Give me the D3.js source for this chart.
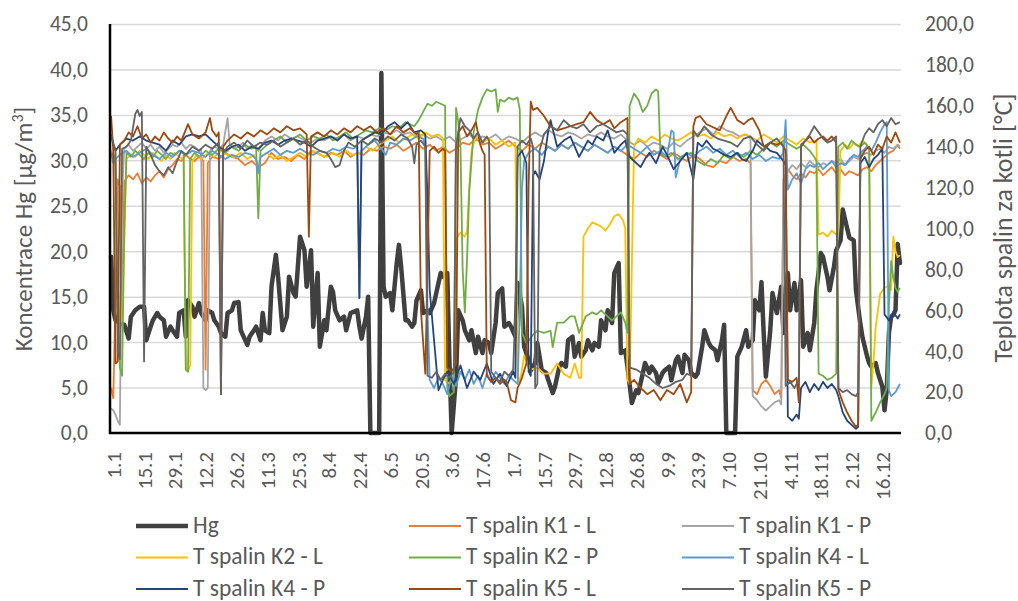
<!DOCTYPE html>
<html>
<head>
<meta charset="utf-8">
<script src="https://cdn.jsdelivr.net/npm/d3@7"></script>
<style>
  body { margin: 0; background: #fff; }
  svg { display: block; }
  text { font-family: Carlito, Lato, "Open Sans", sans-serif; fill: #595959; }
</style>
</head>
<body>
<svg id="chart" width="1018" height="601"></svg>
<script>
// Daily values for 2020; each point is [day index from 1.1., value]
const dayLabels = ["1.1","15.1","29.1","12.2","26.2","11.3","25.3","8.4","22.4","6.5","20.5","3.6","17.6",
  "1.7","15.7","29.7","12.8","26.8","9.9","23.9","7.10","21.10","4.11","18.11","2.12","16.12"];
const hgTicks = [0,5,10,15,20,25,30,35,40,45];
const tempTicks = [0,20,40,60,80,100,120,140,160,180,200];

// Hg concentration [µg/m3]
const hg = [[0,19.4],[1,13.5],[2,12.4],[4,12.1],[6,11.9],[8,10.4],[9,12.8],[11,13.5],[13,13.9],[15,13.9],[16,10.2],[18,11.7],[19,12.4],[21,13.2],[22,12.8],[24,12.4],[25,10.6],[27,11.7],[28,11.3],[30,10.6],[31,13.2],[33,13.5],[34,10.6],[35,14.6],[37,13.9],[38,12.8],[40,14.3],[41,13.2],[43,12.4],[44,13.5],[46,13.2],[47,12.4],[49,11.7],[50,11.0],[52,10.6],[53,13.2],[55,13.5],[56,14.3],[58,14.4],[59,11.3],[62,9.7],[63,10.6],[65,11.3],[66,11.7],[68,10.2],[69,13.2],[70,11.3],[72,11.0],[73,16.1],[75,19.6],[76,17.2],[78,11.3],[80,12.8],[81,17.2],[83,15.4],[84,15.0],[86,21.6],[88,20.1],[89,16.1],[91,20.1],[92,11.7],[94,17.6],[95,9.5],[97,12.4],[98,11.3],[100,16.1],[101,15.5],[102,13.5],[104,12.4],[106,12.8],[107,11.3],[109,13.2],[110,13.3],[112,13.5],[113,11.7],[114,10.4],[116,12.8],[117,15.0],[118,0],[119,0],[120,0],[121,0],[122,0],[123,39.6],[124,16.1],[125,15.0],[127,15.4],[128,13.5],[130,18.7],[131,20.7],[132,18.3],[134,12.4],[135,12.4],[137,11.7],[138,12.1],[139,14.6],[141,15.7],[142,13.2],[144,13.5],[145,13.2],[147,14.3],[148,15.4],[150,17.6],[151,17.2],[153,17.6],[154,7.7],[155,0],[157,6.2],[158,13.5],[160,12.4],[161,11.3],[163,10.2],[164,11.3],[166,8.8],[167,10.6],[169,8.8],[170,10.2],[172,9.9],[173,8.8],[175,12.1],[176,15.4],[178,15.9],[179,11.7],[181,12.1],[182,11.7],[184,10.6],[185,16.5],[187,13.9],[188,9.5],[190,8.0],[191,6.9],[193,7.7],[194,9.9],[196,6.9],[198,6.6],[199,5.8],[201,4.4],[202,5.1],[204,7.3],[205,7.7],[207,7.3],[208,10.2],[210,10.6],[211,8.4],[213,9.9],[214,8.4],[216,9.1],[217,10.2],[219,9.1],[220,9.9],[222,9.5],[223,12.4],[225,11.3],[226,13.5],[228,12.1],[229,17.6],[231,18.7],[232,8.8],[234,9.1],[235,7.3],[237,3.3],[239,4.7],[240,4.4],[242,6.6],[243,7.7],[245,6.6],[246,7.3],[248,6.6],[249,5.5],[251,6.6],[252,6.9],[254,7.3],[255,5.8],[257,8.0],[258,8.4],[260,6.6],[261,8.6],[263,8.0],[264,6.6],[266,6.2],[267,6.6],[269,9.5],[270,11.3],[272,9.9],[273,9.5],[275,9.1],[276,8.0],[278,10.2],[279,11.9],[280,0],[281,0],[282,0],[283,0],[284,0],[285,8.4],[287,9.5],[289,11.3],[290,9.5],[292,10.2],[293,14.6],[295,13.5],[296,16.6],[297,11.0],[298,6.2],[300,11.3],[301,15.4],[303,13.2],[305,16.1],[306,11.0],[308,17.6],[309,13.5],[311,16.5],[312,13.5],[314,16.8],[315,9.5],[317,11.0],[318,9.1],[320,12.1],[321,15.7],[323,19.8],[324,19.4],[326,17.2],[327,15.7],[329,18.3],[330,20.1],[332,21.2],[333,24.6],[335,22.5],[336,21.5],[338,21.2],[339,15.7],[341,12.0],[342,10.5],[344,8.5],[345,7.7],[346,7.3],[348,7.7],[349,6.6],[351,5.1],[352,2.5],[353,4.7],[354,11.0],[355,12.8],[356,13.0],[357,13.5],[358,20.8],[359,18.7]];

// Flue gas temperature behind the boilers [°C]
const k1L = [[0,22],[1,17],[2,68],[3,124],[4,121],[5,58],[6,123],[8,126],[10,124],[12,127],[14,122],[16,125],[18,123],[20,126],[22,128],[24,125],[26,129],[28,131],[30,134],[32,133],[34,136],[36,134],[38,133],[40,135],[42,133],[43,31],[44,132],[46,135],[49,134],[52,137],[55,135],[58,134],[61,131],[64,133],[67,130],[70,132],[73,137],[76,134],[79,135],[82,133],[85,136],[88,134],[91,138],[94,137],[97,135],[100,137],[103,136],[106,138],[109,135],[112,137],[115,136],[118,139],[121,138],[124,140],[127,139],[130,141],[133,138],[136,140],[139,142],[142,139],[145,141],[148,138],[151,140],[154,137],[157,139],[160,142],[163,141],[166,144],[169,141],[172,142],[175,139],[178,141],[181,143],[184,140],[187,138],[190,141],[193,139],[196,142],[199,140],[202,138],[205,141],[208,139],[211,142],[214,140],[217,138],[220,141],[223,139],[226,137],[229,140],[232,138],[235,136],[238,134],[241,137],[244,135],[247,138],[250,136],[253,134],[256,137],[259,135],[262,133],[265,136],[268,134],[271,131],[274,130],[277,133],[280,132],[283,135],[286,133],[289,134],[291,132],[292,21],[294,19],[296,24],[298,26],[300,23],[302,19],[304,21],[305,17],[306,124],[308,129],[310,126],[312,124],[314,127],[316,125],[318,128],[320,127],[322,129],[324,126],[326,128],[328,130],[330,127],[332,129],[334,126],[336,128],[338,127],[340,126],[342,129],[344,130],[346,128],[348,131],[350,133],[352,135],[354,137],[356,138],[358,141],[359,139]];
const k1P = [[0,12],[1,11],[2,9],[3,6],[4,4],[5,118],[6,139],[8,141],[10,138],[12,140],[14,142],[16,139],[18,141],[20,138],[22,140],[24,137],[26,139],[28,141],[30,140],[32,142],[34,139],[36,141],[38,140],[40,138],[41,139],[42,22],[43,21],[44,22],[45,138],[47,140],[49,139],[51,141],[53,154],[54,141],[56,139],[58,140],[60,142],[62,139],[64,141],[67,138],[70,143],[73,145],[76,143],[79,146],[82,144],[85,145],[88,143],[91,142],[94,144],[97,143],[100,145],[103,144],[106,146],[109,143],[112,145],[115,144],[118,146],[121,145],[124,147],[127,146],[130,148],[133,146],[136,147],[139,145],[142,146],[145,144],[148,145],[151,143],[154,145],[157,142],[160,144],[163,146],[166,143],[169,145],[172,144],[175,146],[178,143],[181,145],[184,144],[187,142],[190,145],[193,147],[196,145],[199,148],[202,146],[205,145],[208,147],[211,146],[214,144],[217,146],[220,145],[223,147],[226,145],[229,144],[232,146],[235,143],[238,141],[241,143],[244,140],[247,142],[250,141],[253,139],[256,142],[259,140],[262,143],[265,145],[268,147],[271,149],[274,146],[277,150],[280,148],[283,147],[286,145],[289,146],[291,144],[292,18],[294,16],[296,13],[298,11],[300,13],[302,15],[304,16],[305,14],[306,122],[308,128],[310,131],[312,129],[314,132],[316,130],[318,133],[320,131],[322,130],[324,132],[326,131],[328,133],[330,132],[332,134],[334,131],[336,133],[338,135],[340,134],[342,136],[344,137],[346,136],[348,138],[350,139],[352,137],[354,140],[356,139],[358,141],[359,140]];
const k2L = [[0,138],[1,136],[2,131],[3,74],[4,52],[5,60],[6,92],[7,134],[9,136],[11,135],[13,138],[15,136],[17,134],[19,137],[21,135],[23,133],[25,136],[27,134],[29,137],[31,135],[33,134],[34,31],[35,30],[36,33],[37,133],[39,136],[41,134],[44,137],[47,135],[50,138],[53,136],[56,135],[59,137],[62,134],[65,136],[67,131],[68,135],[71,137],[74,134],[77,136],[80,133],[83,135],[86,137],[89,135],[92,138],[95,136],[98,135],[101,137],[104,135],[107,138],[110,136],[113,137],[116,140],[119,138],[122,141],[125,143],[128,145],[131,142],[134,144],[137,146],[140,144],[143,147],[146,145],[149,146],[151,144],[152,26],[154,24],[156,27],[157,95],[159,98],[161,96],[162,99],[163,120],[164,138],[166,145],[169,142],[172,144],[175,141],[178,143],[181,140],[184,142],[185,30],[186,24],[188,38],[191,31],[194,32],[197,29],[200,29],[203,34],[206,29],[209,27],[211,34],[213,27],[214,27],[215,96],[217,100],[219,103],[221,102],[223,101],[225,99],[227,102],[229,106],[231,107],[233,104],[234,100],[235,26],[236,24],[238,140],[240,144],[243,142],[246,145],[249,143],[252,146],[255,144],[258,143],[261,145],[264,147],[267,145],[270,146],[273,144],[276,147],[279,145],[282,146],[285,144],[288,146],[291,145],[294,143],[297,146],[300,144],[303,142],[306,145],[309,143],[312,141],[315,144],[318,142],[321,143],[322,97],[324,98],[326,96],[328,99],[330,97],[331,98],[332,138],[334,141],[336,139],[338,142],[340,140],[342,143],[344,141],[345,139],[346,22],[347,35],[348,52],[350,68],[352,71],[354,72],[355,70],[356,96],[357,89],[358,86],[359,87]];
const k2P = [[0,135],[1,137],[2,133],[3,60],[4,32],[5,28],[6,100],[7,137],[9,135],[11,138],[13,136],[15,134],[17,137],[19,135],[21,138],[23,136],[25,134],[27,137],[29,136],[31,138],[33,137],[34,31],[35,30],[36,134],[38,137],[40,135],[43,138],[46,136],[49,139],[52,137],[55,140],[58,138],[61,141],[64,139],[66,140],[67,105],[68,138],[71,141],[74,143],[77,145],[80,142],[83,144],[86,146],[89,143],[92,145],[95,144],[98,146],[101,143],[104,145],[107,147],[110,144],[113,146],[116,148],[119,147],[122,149],[125,148],[128,150],[131,149],[134,152],[136,151],[138,150],[140,153],[142,157],[144,161],[146,160],[148,162],[150,161],[152,160],[153,22],[154,18],[156,20],[157,159],[158,152],[159,140],[160,80],[161,59],[162,85],[163,118],[165,147],[167,158],[169,164],[171,168],[173,167],[175,168],[176,157],[177,163],[179,162],[181,164],[183,163],[185,164],[186,158],[187,49],[189,44],[190,45],[192,48],[194,50],[197,49],[200,50],[201,42],[203,54],[206,54],[209,57],[211,57],[213,49],[216,57],[219,59],[221,58],[223,60],[226,57],[228,55],[230,57],[232,59],[234,54],[235,49],[236,160],[238,166],[240,163],[242,157],[244,160],[246,166],[248,168],[249,167],[250,137],[252,135],[255,137],[258,134],[261,136],[264,137],[267,133],[270,131],[273,134],[276,132],[279,136],[282,134],[285,137],[288,135],[291,138],[294,136],[297,139],[300,142],[303,140],[306,143],[309,141],[312,139],[315,141],[318,138],[320,135],[321,133],[322,29],[324,28],[326,26],[328,27],[330,29],[331,140],[333,142],[335,139],[337,143],[339,141],[341,140],[343,142],[345,139],[346,6],[348,10],[350,15],[352,19],[353,22],[354,62],[355,84],[356,76],[357,71],[358,69],[359,71]];
const k4L = [[0,137],[1,132],[2,134],[4,136],[7,138],[10,135],[13,137],[16,139],[19,136],[22,134],[25,137],[28,135],[31,138],[34,136],[37,138],[40,137],[43,135],[46,138],[49,136],[52,134],[55,136],[58,135],[61,137],[64,136],[66,134],[67,127],[68,135],[71,137],[74,139],[77,136],[80,138],[83,137],[86,139],[89,137],[92,136],[95,138],[98,137],[101,139],[104,138],[107,140],[110,139],[112,140],[113,66],[114,138],[117,141],[120,143],[123,139],[125,136],[127,142],[130,141],[133,144],[136,143],[139,145],[142,144],[143,140],[144,60],[145,26],[147,22],[149,27],[151,24],[153,19],[155,28],[157,23],[159,30],[161,26],[163,31],[165,24],[167,28],[169,22],[171,29],[173,25],[175,30],[177,27],[179,24],[181,28],[183,26],[185,24],[186,60],[187,120],[188,133],[190,137],[193,139],[196,136],[199,140],[202,138],[205,141],[208,139],[211,142],[214,140],[217,138],[220,141],[223,139],[226,137],[229,140],[232,138],[235,141],[238,139],[241,137],[244,140],[247,136],[250,138],[253,135],[255,148],[256,147],[257,125],[259,134],[262,137],[265,135],[268,138],[271,140],[274,137],[277,139],[280,136],[283,138],[286,135],[289,137],[292,134],[295,136],[298,133],[301,135],[304,134],[306,137],[307,153],[308,119],[310,124],[312,127],[314,122],[316,129],[318,131],[320,130],[322,132],[324,129],[326,131],[328,133],[330,130],[332,132],[334,131],[336,134],[338,136],[340,135],[342,138],[344,140],[346,138],[348,142],[350,147],[352,151],[353,152],[354,21],[355,18],[356,19],[357,20],[358,22],[359,24]];
const k4P = [[0,146],[1,141],[2,138],[4,141],[7,144],[10,143],[13,145],[16,143],[19,142],[22,141],[25,138],[28,143],[31,141],[34,145],[37,146],[40,145],[43,146],[46,143],[49,140],[52,138],[55,140],[58,141],[61,138],[64,140],[67,139],[70,142],[73,143],[76,141],[79,143],[82,144],[85,143],[88,142],[91,140],[94,143],[97,144],[100,145],[103,143],[106,146],[109,144],[112,145],[113,66],[114,143],[117,145],[120,147],[123,146],[126,150],[129,152],[132,149],[135,152],[138,147],[141,148],[143,146],[144,115],[145,70],[147,45],[149,21],[151,26],[153,30],[156,24],[159,33],[162,22],[165,30],[168,26],[171,34],[174,24],[177,29],[180,23],[183,30],[184,27],[185,135],[187,138],[189,132],[190,30],[191,28],[192,126],[193,128],[195,124],[197,133],[199,148],[200,153],[203,140],[206,143],[209,145],[211,140],[213,135],[215,139],[217,143],[219,141],[221,145],[224,143],[226,148],[229,137],[232,141],[234,143],[236,135],[238,133],[241,130],[243,134],[245,137],[248,132],[251,140],[253,136],[256,129],[259,133],[262,137],[265,124],[267,142],[269,140],[271,143],[274,139],[276,138],[279,136],[282,135],[285,137],[287,134],[289,133],[292,138],[294,143],[296,141],[298,140],[300,138],[303,137],[306,133],[307,131],[308,8],[310,6],[312,9],[313,7],[314,22],[316,25],[318,20],[320,24],[322,21],[324,25],[326,22],[328,24],[330,21],[331,18],[333,10],[335,6],[337,4],[339,2],[340,3],[341,132],[343,135],[345,130],[347,134],[349,136],[351,139],[352,58],[354,55],[356,59],[358,56],[359,58]];
const k5L = [[0,155],[1,138],[2,34],[3,35],[4,141],[6,143],[8,147],[10,145],[12,150],[14,144],[16,146],[18,142],[20,145],[22,143],[24,147],[26,144],[28,142],[30,145],[32,143],[35,151],[37,146],[40,144],[43,147],[45,154],[46,148],[48,145],[49,147],[50,19],[51,140],[53,143],[56,146],[59,144],[62,147],[65,145],[68,148],[71,146],[74,149],[77,147],[80,150],[83,148],[86,149],[88,147],[89,146],[90,96],[91,145],[94,147],[97,145],[100,148],[103,146],[106,149],[109,147],[112,150],[115,148],[118,150],[121,147],[124,149],[127,146],[130,150],[133,147],[136,149],[139,146],[140,147],[141,60],[143,29],[144,80],[145,138],[147,140],[149,137],[151,139],[152,138],[153,32],[155,30],[157,34],[158,147],[160,150],[162,145],[164,148],[166,152],[168,141],[169,138],[170,136],[171,28],[173,25],[175,27],[177,24],[179,26],[180,25],[182,16],[184,15],[185,22],[187,27],[189,34],[190,120],[191,162],[192,158],[194,159],[197,155],[200,150],[203,148],[206,149],[209,150],[212,151],[215,152],[218,157],[221,153],[224,151],[227,153],[229,149],[232,152],[235,154],[236,24],[238,26],[241,22],[244,19],[247,21],[250,16],[253,21],[256,19],[259,24],[262,15],[264,20],[265,150],[266,154],[268,155],[271,151],[273,150],[277,148],[280,155],[282,159],[285,153],[288,151],[290,153],[292,154],[294,150],[295,148],[297,140],[300,142],[303,141],[305,142],[307,138],[308,26],[310,25],[312,27],[313,15],[314,140],[316,143],[318,145],[320,142],[322,144],[324,145],[326,143],[328,145],[330,142],[331,21],[333,15],[335,10],[337,6],[339,3],[340,4],[341,134],[343,138],[345,140],[347,136],[349,141],[351,139],[353,145],[355,142],[357,147],[359,142]];
const k5P = [[0,146],[1,142],[2,138],[3,40],[4,36],[5,139],[7,140],[9,143],[11,156],[12,158],[13,155],[14,157],[15,35],[16,140],[18,136],[20,131],[22,128],[24,126],[26,130],[28,127],[30,133],[32,138],[34,136],[37,140],[40,138],[43,141],[46,139],[49,142],[50,19],[51,137],[53,140],[56,142],[59,139],[62,143],[65,140],[68,142],[71,141],[74,143],[77,140],[80,142],[83,144],[86,141],[89,143],[92,140],[95,138],[98,137],[100,134],[102,130],[104,131],[106,138],[108,142],[111,140],[114,143],[117,141],[120,144],[123,142],[126,145],[129,143],[132,146],[135,144],[137,140],[138,132],[139,141],[141,143],[143,140],[144,28],[146,27],[148,30],[150,26],[152,29],[154,27],[156,30],[157,140],[159,154],[161,150],[163,148],[165,144],[167,147],[169,142],[171,145],[172,143],[173,30],[175,27],[177,25],[179,30],[181,28],[183,31],[184,60],[185,140],[187,143],[189,141],[191,144],[192,140],[193,22],[194,24],[195,138],[197,146],[200,150],[203,148],[206,153],[209,150],[212,149],[215,151],[218,147],[221,150],[224,151],[227,149],[230,147],[233,148],[235,146],[236,32],[239,31],[242,29],[245,27],[248,24],[251,22],[254,23],[257,25],[260,26],[262,29],[264,28],[265,148],[267,145],[270,150],[273,146],[276,144],[279,143],[282,142],[285,140],[288,144],[291,145],[294,141],[297,138],[300,142],[303,144],[306,140],[307,23],[309,25],[311,22],[313,26],[314,141],[316,143],[318,146],[320,150],[322,147],[324,144],[326,142],[328,143],[330,145],[331,22],[333,20],[335,21],[337,19],[339,18],[340,20],[341,140],[343,146],[345,149],[347,147],[349,151],[351,153],[353,150],[355,154],[357,151],[359,152]];

const tempSeries = [
  { name: "T spalin K1 - L", data: k1L, color: "#ED7D31" },
  { name: "T spalin K1 - P", data: k1P, color: "#A5A5A5" },
  { name: "T spalin K2 - L", data: k2L, color: "#FFC000" },
  { name: "T spalin K2 - P", data: k2P, color: "#70AD47" },
  { name: "T spalin K4 - L", data: k4L, color: "#5B9BD5" },
  { name: "T spalin K4 - P", data: k4P, color: "#264478" },
  { name: "T spalin K5 - L", data: k5L, color: "#9E480E" },
  { name: "T spalin K5 - P", data: k5P, color: "#636363" }
];
const hgSeries = { name: "Hg", data: hg, color: "#404040" };

const svg = d3.select("#chart");
const plot = { left: 110, right: 901, top: 24, bottom: 433 };
const nDays = 360;
const tickFont = 21.5;
const legendFont = 23.5;

const x = d3.scaleLinear().domain([-0.5, nDays - 0.5]).range([plot.left, plot.right]);
const yL = d3.scaleLinear().domain([0, 45]).range([plot.bottom, plot.top]);
const yR = d3.scaleLinear().domain([0, 200]).range([plot.bottom, plot.top]);
const fmt = d => d3.format(".1f")(d).replace(".", ",");

// horizontal gridlines
const grid = svg.append("g").attr("transform", `translate(${plot.left},0)`)
  .call(d3.axisLeft(yL).tickValues(hgTicks.filter(v => v > 0)).tickSize(-(plot.right - plot.left)).tickFormat(""));
grid.select(".domain").remove();
grid.selectAll("line").attr("stroke", "#D9D9D9").attr("stroke-width", 1.5);

// left axis labels
const axL = svg.append("g").attr("transform", `translate(${plot.left},0)`)
  .call(d3.axisLeft(yL).tickValues(hgTicks).tickFormat(fmt).tickSize(0).tickPadding(22));
axL.select(".domain").remove();
axL.selectAll("text").attr("font-size", tickFont).attr("fill", "#595959").attr("font-family", null);

// right axis labels
const axR = svg.append("g").attr("transform", `translate(${plot.right},0)`)
  .call(d3.axisRight(yR).tickValues(tempTicks).tickFormat(fmt).tickSize(0).tickPadding(24));
axR.select(".domain").remove();
axR.selectAll("text").attr("font-size", tickFont).attr("fill", "#595959").attr("font-family", null);

// bottom axis, date labels rotated
const tickDays = dayLabels.map((_, i) => i * 14);
const axB = svg.append("g").attr("transform", `translate(0,${plot.bottom})`)
  .call(d3.axisBottom(x).tickValues(tickDays).tickFormat((d, i) => dayLabels[i]).tickSize(0));
axB.select(".domain").remove();
axB.selectAll("text")
  .attr("font-size", 21).attr("fill", "#595959").attr("font-family", null)
  .attr("transform", "rotate(-90)")
  .attr("text-anchor", "end")
  .attr("x", -19).attr("y", 2).attr("dy", "0.35em");

// series lines
const lineL = d3.line().x(d => x(d[0])).y(d => yL(d[1]));
const lineR = d3.line().x(d => x(d[0])).y(d => yR(d[1]));

svg.append("path").datum(hgSeries.data)
  .attr("d", lineL).attr("fill", "none")
  .attr("stroke", hgSeries.color).attr("stroke-width", 4.5)
  .attr("stroke-linejoin", "round").attr("stroke-linecap", "round");

svg.append("g").selectAll("path").data(tempSeries).join("path")
  .attr("d", s => lineR(s.data)).attr("fill", "none")
  .attr("stroke", s => s.color).attr("stroke-width", 1.8)
  .attr("stroke-linejoin", "round");

// axis lines
svg.append("line").attr("x1", plot.left).attr("x2", plot.left).attr("y1", plot.top).attr("y2", plot.bottom + 1)
  .attr("stroke", "#000").attr("stroke-width", 2.5);
svg.append("line").attr("x1", plot.left - 1).attr("x2", plot.right).attr("y1", plot.bottom).attr("y2", plot.bottom)
  .attr("stroke", "#000").attr("stroke-width", 2.5);

// axis titles
const tL = svg.append("text").attr("transform", "translate(31.5,229) rotate(-90)")
  .attr("text-anchor", "middle").attr("font-size", 25).attr("fill", "#595959");
tL.append("tspan").text("Koncentrace Hg [µg/m");
tL.append("tspan").attr("dy", -9).attr("font-size", 16).text("3");
tL.append("tspan").attr("dy", 9).text("]");

svg.append("text").attr("transform", "translate(1012,228) rotate(-90)")
  .attr("text-anchor", "middle").attr("font-size", 26).attr("fill", "#595959")
  .text("Teplota spalin za kotli [°C]");

// legend
const legendItems = [hgSeries, ...tempSeries];
const colX = [136, 409, 682];
const rowY = [526, 557.5, 589];
const lg = svg.append("g").selectAll("g").data(legendItems).join("g")
  .attr("transform", (d, i) => `translate(${colX[i % 3]},${rowY[Math.floor(i / 3)]})`);
lg.append("line").attr("x1", 0).attr("x2", 52).attr("y1", 0).attr("y2", 0)
  .attr("stroke", d => d.color).attr("stroke-width", d => d.name === "Hg" ? 4.5 : 2);
lg.append("text").attr("x", 57).attr("y", 6.5).attr("font-size", legendFont).attr("fill", "#595959")
  .text(d => d.name);
</script>
</body>
</html>
